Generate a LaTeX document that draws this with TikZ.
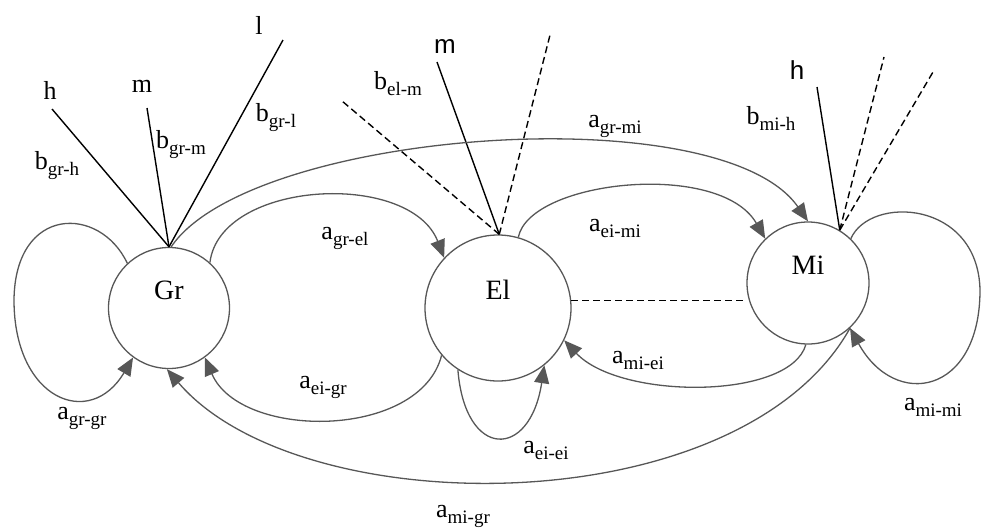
\documentclass[tikz,border=0pt]{standalone}
\usepackage{fontspec}
\setmainfont{Liberation Serif}
\newfontfamily\sansf{Liberation Sans}
\usetikzlibrary{arrows.meta}

\definecolor{curvegray}{HTML}{575757}

% label with lowered subscript
\newcommand{\lbl}[2]{#1{\fontsize{19}{19}\selectfont\raisebox{-6pt}{#2}}}

\tikzset{
  state/.style={circle, draw=curvegray, line width=1.3pt, inner sep=0pt,
    text height=20pt, text depth=38pt, font=\fontsize{28}{30}\selectfont},
  trans/.style={draw=curvegray, line width=1.3pt,
    -{Triangle[length=18pt, width=15pt]}},
  bline/.style={black, line width=1.4pt},
  dline/.style={black, line width=1.4pt, dash pattern=on 7pt off 4pt},
}

\begin{document}
\begin{tikzpicture}[x=1pt, y=-1pt, font=\fontsize{26}{30}\selectfont]

  \useasboundingbox (0,0) rectangle (981,528);

  % states
  \node[state, minimum size=121pt] (gr) at (169,308) {Gr};
  \node[state, minimum size=146pt] (el) at (498,308) {El};
  \node[state, minimum size=122pt] (mi) at (808,283) {Mi};

  % free ends of the emission lines
  \coordinate (grH) at (52,109);
  \coordinate (grM) at (147,108);
  \coordinate (grL) at (283,40);
  \coordinate (elM) at (437,62);
  \coordinate (elD1) at (342,101);
  \coordinate (elD2) at (550,35);
  \coordinate (miH) at (817,87);
  \coordinate (miD1) at (884,57);
  \coordinate (miD2) at (933,72);

  \foreach \e in {grH, grM, grL} {
    \draw[bline] (gr.90) -- (\e);
  }
  \draw[bline] (el.89) -- (elM);
  \draw[dline] (el.89) -- (elD1);
  \draw[dline] (el.89) -- (elD2);
  \draw[bline] (mi.59) -- (miH);
  \draw[dline] (mi.59) -- (miD1);
  \draw[dline] (mi.59) -- (miD2);

  \draw[dline] (el.6) -- (el.6 -| mi.west);

  % transitions
  \draw[trans] (gr.133) .. controls (100,205) and (15,205) .. (14,300)
    .. controls (14,400) and (90,430) .. (gr.234);
  \draw[trans] (gr.48) .. controls (220,180) and (410,170) .. (el.137);
  \draw[trans] (gr.88) .. controls (250,130) and (720,95) .. (mi.90);
  \draw[trans] (el.74) .. controls (530,180) and (720,160) .. (mi.134);
  \draw[trans] (el.220) .. controls (420,440) and (240,440) .. (gr.306);
  \draw[trans] (el.237) .. controls (465,460) and (530,460) .. (el.309);
  \draw[trans] (mi.268) .. controls (790,400) and (620,400) .. (el.334);
  \draw[trans] (mi.46) .. controls (870,195) and (978,200) .. (980,290)
    .. controls (980,395) and (895,410) .. (mi.313);
  \draw[trans] (mi.313) .. controls (740,525) and (300,525) .. (gr.268);

  % labels
  \node (tH) at (50,90) {h};
  \node (tM) at (142,86) {m};
  \node (tL) at (259,25) {l};
  \node (tEm) at (445,47) {\sansf m};
  \node (tMh) at (797,70) {\sansf h};

  \node (bgrh) at (57,166) {\lbl{b}{gr-h}};
  \node (bgrm) at (181,145) {\lbl{b}{gr-m}};
  \node (bgrl) at (276,118) {\lbl{b}{gr-l}};
  \node (belm) at (398,84) {\lbl{b}{el-m}};
  \node (bmih) at (771,118) {\lbl{b}{mi-h}};

  \node (agrgr) at (82,418) {\lbl{a}{gr-gr}};
  \node (agrel) at (345,238) {\lbl{a}{gr-el}};
  \node (agrmi) at (615,126) {\lbl{a}{gr-mi}};
  \node (aeimi) at (615,228) {\lbl{a}{ei-mi}};
  \node (aeigr) at (323,387) {\lbl{a}{ei-gr}};
  \node (amiei) at (638,360) {\lbl{a}{mi-ei}};
  \node (aeiei) at (546,450) {\lbl{a}{ei-ei}};
  \node (amimi) at (933,407) {\lbl{a}{mi-mi}};
  \node (amigr) at (463,516) {\lbl{a}{mi-gr}};

\end{tikzpicture}
\end{document}
